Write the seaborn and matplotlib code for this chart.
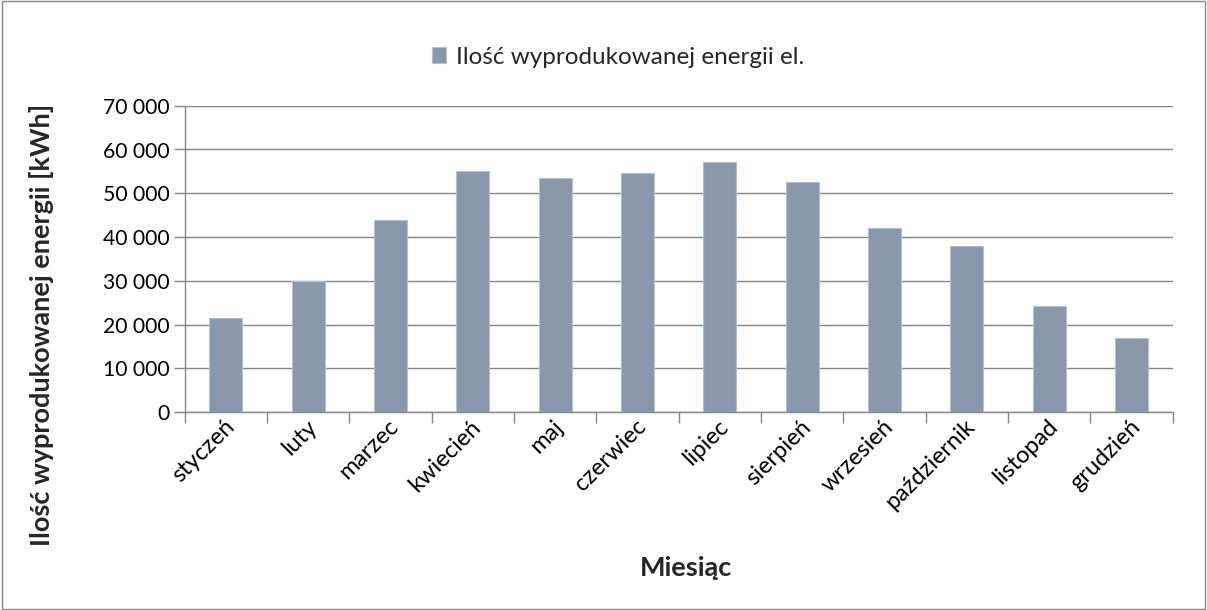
import matplotlib
matplotlib.use("Agg")
import matplotlib.pyplot as plt
import matplotlib.ticker as mticker
import matplotlib.transforms as mtransforms
from matplotlib.patches import Rectangle
import seaborn as sns
import pandas as pd

months = ["styczeń", "luty", "marzec", "kwiecień", "maj", "czerwiec",
          "lipiec", "sierpień", "wrzesień", "październik", "listopad", "grudzień"]
energy = [21600, 30000, 43800, 55000, 53600, 54600,
          57200, 52600, 42100, 37900, 24300, 17000]
series_name = "Ilość wyprodukowanej energii el."
y_ticks = [0, 10000, 20000, 30000, 40000, 50000, 60000, 70000]

sns.set_theme(style="white")
plt.rcParams["font.family"] = ["Lato", "DejaVu Sans"]

df = pd.DataFrame({"Miesiąc": months, "Energia": energy})

W, H = 1207, 610
x0, x1, yb, yt = 184.7, 1172.7, 412.3, 105.7
fig = plt.figure(figsize=(W / 100, H / 100), dpi=100)
ax = fig.add_axes([x0 / W, 1 - yb / H, (x1 - x0) / W, (yb - yt) / H])

bar_color = "#8497B0"
sns.barplot(data=df, x="Miesiąc", y="Energia", color=bar_color, width=0.4,
            edgecolor="#B4C0D2", linewidth=0.8, label=series_name, ax=ax, zorder=3)

grid_c = "#868686"
ax.set_ylim(0, 70000)
ax.set_xlim(-0.5, len(months) - 0.5)
ax.set_yticks(y_ticks)
ax.yaxis.set_major_formatter(mticker.FuncFormatter(lambda v, p: f"{int(v):,}".replace(",", " ")))
ax.grid(axis="y", color=grid_c, linewidth=1.0, zorder=0)
ax.set_axisbelow(True)

for s in ["top", "right"]:
    ax.spines[s].set_visible(False)
for s in ["left", "bottom"]:
    ax.spines[s].set_color(grid_c)
    ax.spines[s].set_linewidth(1.0)

ax.tick_params(axis="y", which="major", left=True, length=8, width=1.0, color=grid_c,
               labelsize=15.2, labelcolor="black", pad=3)
ax.set_xticks(range(len(months)))
ax.set_xticks([i - 0.5 for i in range(len(months) + 1)], minor=True)
ax.tick_params(axis="x", which="major", bottom=False, length=0, labelsize=17,
               labelcolor="black", pad=8)
ax.tick_params(axis="x", which="minor", bottom=True, length=8, width=1.0, color=grid_c)
ax.set_xticklabels(months, rotation=45, ha="right", va="center", rotation_mode="anchor")
shift = mtransforms.ScaledTranslation(5 / 100, 0, fig.dpi_scale_trans)
for lbl in ax.get_xticklabels():
    lbl.set_transform(lbl.get_transform() + shift)

ax.set_xlabel("Miesiąc", fontsize=19.5, fontweight="bold")
ax.set_ylabel("Ilość wyprodukowanej energii [kWh]", fontsize=19.5, fontweight="bold")
ax.xaxis.set_label_coords((686 - x0) / (x1 - x0), -(556 - yb) / (yb - yt))
ax.yaxis.set_label_coords(-(x0 - 54) / (x1 - x0), (yb - 325) / (yb - yt))

leg = ax.legend(loc="center", bbox_to_anchor=(618 / W, 1 - 57 / H),
                bbox_transform=fig.transFigure, frameon=False, fontsize=17.5,
                handlelength=0.6, handleheight=0.6, handletextpad=0.4)

fig.patches.append(Rectangle((0.0015, 0.002), 0.997, 0.996, transform=fig.transFigure,
                             fill=False, edgecolor="#868686", linewidth=1.0))

fig.savefig("out.png", dpi=100, facecolor="white")
